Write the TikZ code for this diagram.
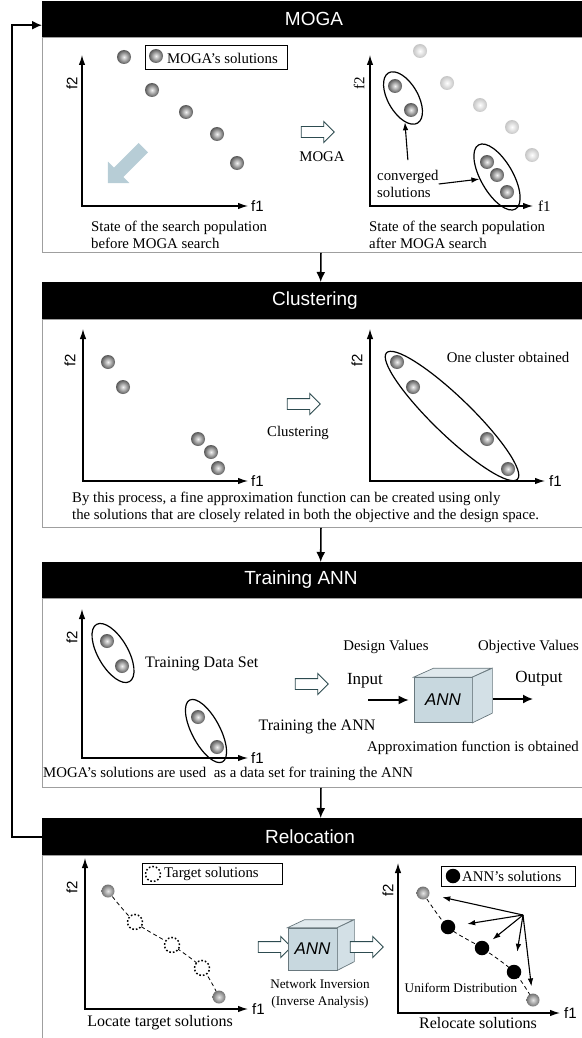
\documentclass[tikz,border=0pt]{standalone}
\usepackage{fontspec}
\setmainfont{Liberation Serif}
\setsansfont{Liberation Sans}
\usetikzlibrary{arrows.meta,shapes.geometric,shapes.arrows,backgrounds}
\definecolor{hollowc}{RGB}{45,75,80}
\definecolor{driftc}{RGB}{183,205,214}
\definecolor{cubefront}{RGB}{200,216,223}
\definecolor{cubetop}{RGB}{224,233,237}
\definecolor{cubeside}{RGB}{211,224,230}
\definecolor{cubeedge}{RGB}{105,120,126}
\tikzset{
  hdr/.style={fill=black, minimum width=541, minimum height=36, inner sep=0pt, anchor=north west},
  title/.style={text=white, font=\fontsize{19}{22}\sffamily},
  panel/.style={draw=gray!75, line width=0.9, minimum width=541, inner sep=0pt, anchor=north west},
  flow/.style={-{Latex[length=10,width=9]}, line width=1.6},
  axis/.style={{Latex[length=10,width=6.5]}-{Latex[length=10,width=6.5]}, line width=1.2},
  ptr/.style={-{Latex[length=8,width=5.5]}, line width=1.1},
  flab/.style={font=\fontsize{15}{18}\sffamily, inner sep=1pt},
  fser/.style={font=\fontsize{15}{18}\selectfont, inner sep=1pt},
  txt/.style={font=\fontsize{14.8}{17}\selectfont, inner sep=0pt},
  btxt/.style={font=\fontsize{16}{19}\selectfont, inner sep=0pt},
  ltxt/.style={font=\fontsize{17}{20}\selectfont, inner sep=0pt},
  stxt/.style={font=\fontsize{13.2}{17}\selectfont, inner sep=0pt},
  sol/.style={circle, minimum size=14, inner sep=0pt, inner color=gray!10, outer color=black!65},
  faint/.style={circle, minimum size=14, inner sep=0pt, inner color=white, outer color=gray!45},
  rsol/.style={circle, minimum size=13, inner sep=0pt, inner color=gray!20, outer color=black!55},
  annsol/.style={circle, fill=black, minimum size=14.5, inner sep=0pt},
  target/.style={circle, draw, dash pattern=on 1.6pt off 2pt, line width=1.5, fill=white, minimum size=15, inner sep=0pt},
  grp/.style={ellipse, draw, line width=1.2, inner sep=0pt},
  legbox/.style={draw, line width=1, inner sep=0pt},
  hollow/.style={single arrow, draw=hollowc, fill=white, line width=0.9, inner sep=0pt, inner ysep=5pt,
    minimum height=33, single arrow head extend=5, single arrow head indent=0},
  drift/.style={single arrow, fill=driftc, inner sep=0pt, inner ysep=6.5pt, minimum height=50,
    single arrow head extend=8.5, single arrow head indent=0},
  cube/.style={rectangle, draw=cubeedge, fill=cubefront, line width=0.7, font=\fontsize{17}{20}\sffamily\itshape, inner sep=0pt},
  face/.style={draw=cubeedge, line width=0.7},
  trail/.style={dashed, dash pattern=on 4pt off 3pt, line width=0.8},
}
\begin{document}
\begin{tikzpicture}[x=1pt,y=-1pt]
\useasboundingbox (0,0) rectangle (581,1038);
\node[hdr] (h1) at (42,1) {};
\node[panel, minimum height=215] (p1) at (42,37) {};
\node[title] (hm) at (314,19) {MOGA};
\draw[axis] (82,55) -- (82,206) -- (248,206);
\node[flab, rotate=90] (mf2) at (72,83) {f2};
\node[flab, anchor=west] (mf1) at (250,206) {f1};
\foreach \n/\x/\y in {1/124/57, 2/152/90, 3/186/112, 4/217/134, 5/237/163}
  \node[sol] (ma\n) at (\x,\y) {};
\node[legbox, minimum width=142, minimum height=24] (leg1) at (216,58) {};
\node[sol] (leg1b) at (156,56) {};
\node[txt, anchor=west] (leg1t) at (167,58) {MOGA's solutions};
\node[drift, rotate=225] (dir) at (128,163) {};
\node[txt, align=left, anchor=west] (cap1) at (91,235) {State of the search population\\before MOGA search};
\node[hollow] (go1) at (315,132) {};
\node[txt] (go1t) at (322,157) {MOGA};
\draw[axis] (370,55) -- (370,206) -- (533,206);
\node[fser, rotate=90] (mf2b) at (359,83) {f2};
\node[fser, anchor=west] (mf1b) at (537,206) {f1};
\foreach \n/\x/\y in {1/420/51, 2/447/83, 3/480/105, 4/512/127, 5/532/155}
  \node[faint] (mf\n) at (\x,\y) {};
\foreach \n/\x/\y in {1/395/86, 2/411/110, 3/487/162, 4/497/175, 5/507/192}
  \node[sol] (mb\n) at (\x,\y) {};
\node[grp, minimum width=58, minimum height=30, rotate=-60] (conv1) at (403,98) {};
\node[grp, minimum width=74, minimum height=32, rotate=-60] (conv2) at (497,177) {};
\node[txt, align=left, anchor=west] (convt) at (377,184) {converged\\solutions};
\draw[ptr] ([yshift=10]convt.north) -- (conv1);
\draw[ptr] (convt.east) -- (conv2);
\node[txt, align=left, anchor=west] (cap2) at (369,235) {State of the search population\\after MOGA search};

\node[hdr, minimum height=37] (h2) at (42,282) {};
\node[panel, minimum height=208] (p2) at (42,319) {};
\node[title] (hc) at (315,300.5) {Clustering};
\draw[flow] ([xshift=8]p1.south) -- ([xshift=8]h2.north);
\draw[axis] (83,329) -- (83,481) -- (248,481);
\node[flab, rotate=90] (cf2) at (70,360) {f2};
\node[flab, anchor=west] (cf1) at (250,481) {f1};
\foreach \n/\x/\y in {1/108/362, 2/123/387, 3/198/439, 4/211/452, 5/218/468}
  \node[sol] (ca\n) at (\x,\y) {};
\node[hollow] (go2) at (301,404) {};
\node[txt] (go2t) at (298,433) {Clustering};
\draw[axis] (370,329) -- (370,481) -- (545,481);
\node[flab, rotate=90] (cf2b) at (357,360) {f2};
\node[flab, anchor=west] (cf1b) at (548,481) {f1};
\foreach \n/\x/\y in {1/397/362, 2/413/387, 3/487/439, 4/508/469}
  \node[sol] (cb\n) at (\x,\y) {};
\node[grp, minimum width=182, minimum height=38, rotate=-44] (clu) at (452,416) {};
\node[txt] (clut) at (508,357) {One cluster obtained};
\node[txt, align=left, anchor=west] (note2) at (72,507.5) {By this process, a fine approximation function can be created using only\\the solutions that are closely related in both the objective and the design space.};

\node[hdr] (h3) at (42,562) {};
\node[panel, minimum height=189] (p3) at (42,598) {};
\node[title] (ht) at (301,580) {Training ANN};
\draw[flow] ([xshift=8]p2.south) -- ([xshift=8]h3.north);
\draw[axis] (82,609) -- (82,758) -- (248,758);
\node[flab, rotate=90] (tf2) at (72,637) {f2};
\node[flab, anchor=west] (tf1) at (250,758) {f1};
\node[grp, minimum width=66, minimum height=30, rotate=-60] (tr1) at (113,653) {};
\node[grp, minimum width=70, minimum height=28, rotate=-62] (tr2) at (206,731) {};
\foreach \n/\x/\y in {1/107/641, 2/122/666, 3/198/717, 4/217/747}
  \node[sol] (ta\n) at (\x,\y) {};
\node[btxt, anchor=west] (trd) at (145,664) {Training Data Set};
\node[btxt] (trn) at (317,727) {Training the ANN};
\node[hollow] (go3) at (309,684) {};
\node[txt] (dv) at (386,647) {Design Values};
\node[txt, anchor=west] (ov) at (478,647) {Objective Values};
\node[ltxt] (inp) at (365,681) {Input};
\node[cube, minimum width=58, minimum height=45] (net1) at (443,700) {ANN};
\filldraw[face, fill=cubetop] (net1.north west) -- ++(20,-9) -- ++(58,0) -- (net1.north east) -- cycle;
\filldraw[face, fill=cubeside] (net1.north east) -- ++(20,-9) -- ++(0,45) -- (net1.south east) -- cycle;
\coordinate (inp0) at (368,700);
\draw[flow, shorten >=5] (inp0) -- (net1.west);
\node[ltxt] (outp) at (539,679) {Output};
\coordinate (outp1) at (533,699);
\draw[flow] ([xshift=21,yshift=1]net1.east) -- (outp1);
\node[txt] (apx) at (473,748) {Approximation function is obtained};
\node[txt, anchor=west] (note3) at (43,774) {MOGA's solutions are used\ \ as a data set for training the ANN};

\node[hdr, minimum height=37] (h4) at (42,818) {};
\node[panel, minimum height=200] (p4) at (42,855) {};
\node[title] (hr) at (310,836.5) {Relocation};
\draw[flow] ([xshift=8]p3.south) -- ([xshift=8]h4.north);
\draw[flow] (h4.west) -- ++(-30,0) |- ([yshift=-6]h1.west);
\draw[axis] (85,858) -- (85,1009) -- (248,1009);
\node[flab, rotate=90] (rf2) at (72,887) {f2};
\node[flab, anchor=west] (rf1) at (251,1009) {f1};
\node[rsol] (g1) at (108,891) {};
\node[rsol] (g2) at (219,997) {};
\foreach \n/\x/\y in {1/135/922, 2/172/945, 3/202/968}
  \node[target] (tg\n) at (\x,\y) {};
\node[legbox, minimum width=140, minimum height=21] (leg2) at (212,874) {};
\node[target] (leg2c) at (153,874) {};
\node[txt, anchor=west] (leg2t) at (164,874) {Target solutions};
\node[btxt] (loc) at (160,1023) {Locate target solutions};
\node[hollow] (go4) at (272,947) {};
\node[cube, minimum width=49, minimum height=42] (net2) at (312.5,949) {ANN};
\filldraw[face, fill=cubetop] (net2.north west) -- ++(17,-8) -- ++(49,0) -- (net2.north east) -- cycle;
\filldraw[face, fill=cubeside] (net2.north east) -- ++(17,-8) -- ++(0,42) -- (net2.south east) -- cycle;
\node[hollow] (go5) at (364,947) {};
\node[stxt, align=center] (inv) at (320,993.5) {Network Inversion\\(Inverse Analysis)};
\draw[axis] (398,863) -- (398,1013) -- (560,1013);
\node[flab, rotate=90] (rf2b) at (388,890) {f2};
\node[flab, anchor=west] (rf1b) at (563,1013) {f1};
\node[legbox, minimum width=134, minimum height=20] (leg3) at (508,876) {};
\node[annsol] (leg3c) at (453,876) {};
\node[txt, anchor=west] (leg3t) at (462,876) {ANN's solutions};
\node[rsol] (r1) at (423,893) {};
\node[rsol] (r2) at (533,1000) {};
\foreach \n/\x/\y in {1/448/927, 2/482/948, 3/514/972}
  \node[annsol] (d\n) at (\x,\y) {};
\begin{scope}[on background layer]
\draw[trail] plot[smooth] coordinates {(g1) (tg1) (tg2) (tg3) (g2)};
\draw[trail] plot[smooth] coordinates {(r1) (d1) (d2) (d3) (r2)};
\end{scope}
\coordinate (fan) at (523,915);
\foreach \t/\s in {r1/13, d1/12, d2/6, d3/13, r2/7}
  \draw[ptr, shorten >=\s] (fan) -- (\t);
\node[stxt] (uni) at (461,988) {Uniform Distribution};
\node[btxt] (rel) at (478,1023) {Relocate solutions};
\end{tikzpicture}
\end{document}
